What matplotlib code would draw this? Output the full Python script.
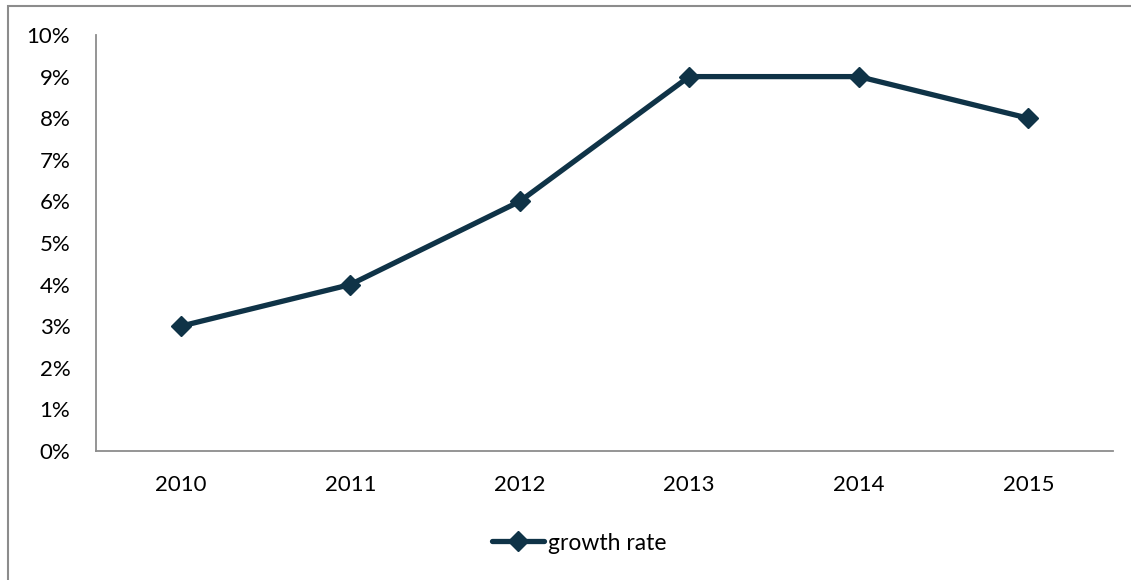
import matplotlib
matplotlib.use("Agg")
import matplotlib.pyplot as plt
from matplotlib.ticker import FuncFormatter
from matplotlib.patches import Rectangle

years = ["2010", "2011", "2012", "2013", "2014", "2015"]
growth_rate = [0.03, 0.04, 0.06, 0.09, 0.09, 0.08]

plt.rcParams['font.family'] = ['Lato', 'DejaVu Sans']
fig = plt.figure(figsize=(11.31, 5.80), dpi=100)
ax = fig.add_axes([96/1131, 1-451/580, (1113-96)/1131, (451-35)/580])

color = "#0f3347"
x = list(range(len(years)))
ax.plot(x, growth_rate, color=color, lw=3.8, marker='D', markersize=10.5,
        label="growth rate", solid_capstyle='round')

ax.set_xlim(-0.5, len(years)-0.5)
ax.set_ylim(0, 0.10)
ax.set_yticks([i/100 for i in range(11)])
ax.yaxis.set_major_formatter(FuncFormatter(lambda v, p: f"{round(v*100)}%"))
ax.set_xticks(x)
ax.set_xticklabels(years)
ax.tick_params(length=0, labelsize=16, colors="#000000")
ax.tick_params(axis='y', pad=18.5)
ax.tick_params(axis='x', pad=17.5)
for s in ['top', 'right']:
    ax.spines[s].set_visible(False)
for s in ['left', 'bottom']:
    ax.spines[s].set_color("#8c8c8c")
    ax.spines[s].set_linewidth(1.3)

leg = fig.legend(loc='center', bbox_to_anchor=(579/1131, 1-543/580), frameon=False,
                 fontsize=16.5, handlelength=2.3, handletextpad=0.15)

fig.patches.append(Rectangle((8/1131, -0.1), 1.2, 1-6/580+0.1, transform=fig.transFigure,
                             fill=False, edgecolor="#8c8c8c", lw=1.5))

fig.savefig("out.png", dpi=100)
